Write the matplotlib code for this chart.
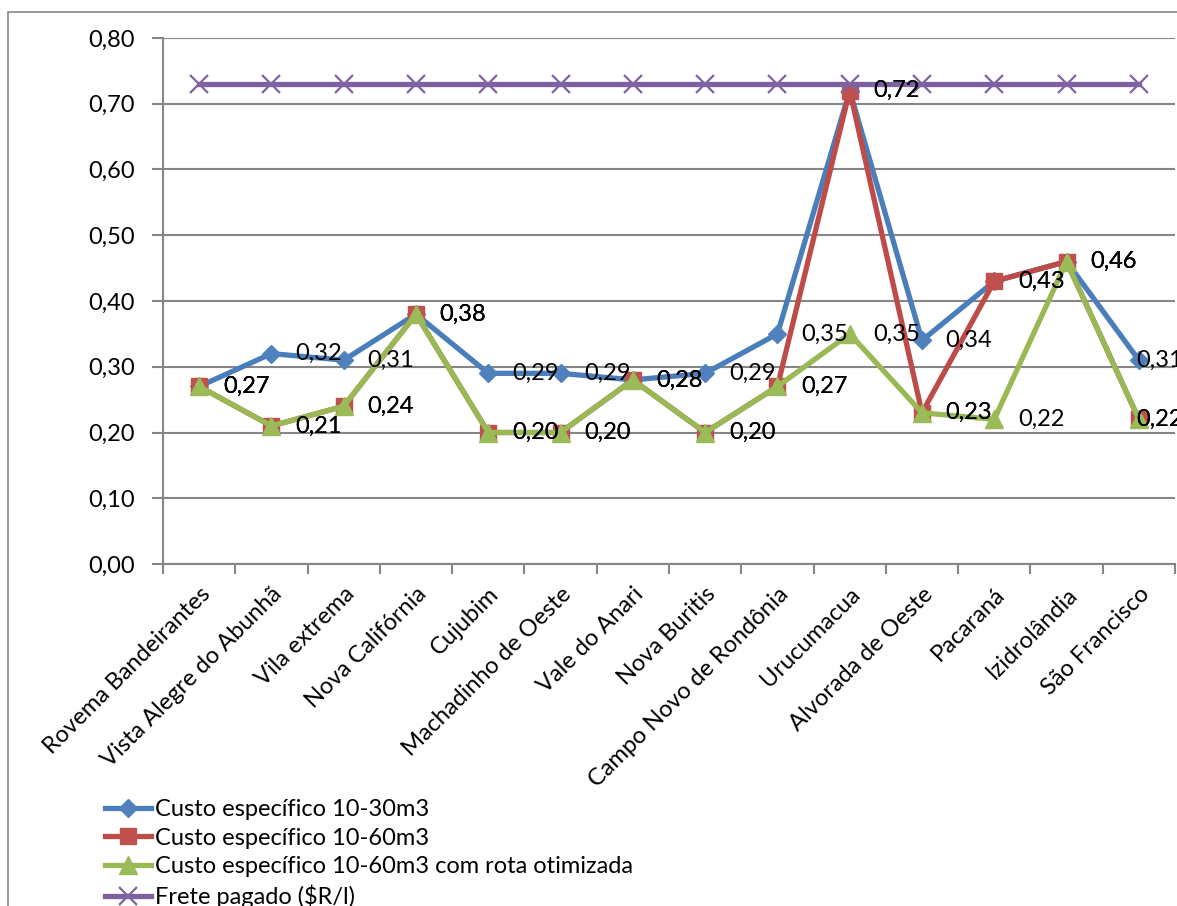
import matplotlib.pyplot as plt
from matplotlib.patches import Rectangle
from matplotlib.ticker import FixedLocator, FuncFormatter
import numpy as np

plt.rcParams["font.family"] = ["Lato", "DejaVu Sans"]

# Localidades atendidas pela rota
localidades = [
    "Rovema Bandeirantes", "Vista Alegre do Abunhã", "Vila extrema", "Nova Califórnia",
    "Cujubim", "Machadinho de Oeste", "Vale do Anari", "Nova Buritis",
    "Campo Novo de Rondônia", "Urucumacua", "Alvorada de Oeste", "Pacaraná",
    "Izidrolândia", "São Francisco",
]

# Custos específicos (R$/l) por cenário
custo_10_30 = [0.27, 0.32, 0.31, 0.38, 0.29, 0.29, 0.28, 0.29, 0.35, 0.72, 0.34, 0.43, 0.46, 0.31]
custo_10_60 = [0.27, 0.21, 0.24, 0.38, 0.20, 0.20, 0.28, 0.20, 0.27, 0.72, 0.23, 0.43, 0.46, 0.22]
custo_10_60_otim = [0.27, 0.21, 0.24, 0.38, 0.20, 0.20, 0.28, 0.20, 0.27, 0.35, 0.23, 0.22, 0.46, 0.22]
frete_pago = [0.73] * 14

series = [
    ("Custo específico 10-30m3", custo_10_30, "#4A7EBB", "#4F81BD", "D", 9, True),
    ("Custo específico 10-60m3", custo_10_60, "#BE4B48", "#C0504D", "s", 12, True),
    ("Custo específico 10-60m3 com rota otimizada", custo_10_60_otim, "#98B954", "#9BBB59", "^", 13, True),
    ("Frete pagado ($R/l)", frete_pago, "#7D60A0", "#8064A2", "x", 13, False),
]

GRID = "#868686"
FONTE = 17


def virgula(v, _pos=None):
    return f"{v:.2f}".replace(".", ",")


fig = plt.figure(figsize=(11.77, 9.06), dpi=100)
ax = fig.add_axes([163 / 1177, 1 - 564 / 906, 1012 / 1177, 526 / 906])

x = np.arange(len(localidades))
handles = []
for nome, valores, cor_linha, cor_marca, marca, tam, rotular in series:
    (h,) = ax.plot(
        x, valores, color=cor_linha, lw=3.8, marker=marca, markersize=tam,
        markerfacecolor=cor_marca, markeredgecolor=cor_marca,
        markeredgewidth=1.6 if marca == "x" else 1, label=nome, clip_on=False, zorder=3,
    )
    handles.append(h)

# rótulos de dados à direita de cada ponto (o último fica junto ao ponto, dentro da área)
for nome, valores, *_resto, rotular in series:
    if not rotular:
        continue
    for xi, v in zip(x, valores):
        dx = -2 if xi == x[-1] else 17
        ax.annotate(virgula(v), (xi, v), xytext=(dx, 0), textcoords="offset points",
                    ha="left", va="center", fontsize=FONTE, color="black",
                    annotation_clip=False, zorder=5)

ax.set_xlim(-0.5, len(localidades) - 0.5)
ax.set_ylim(0, 0.8)
ax.yaxis.set_major_locator(FixedLocator(np.arange(0, 0.81, 0.1)))
ax.yaxis.set_major_formatter(FuncFormatter(virgula))
ax.grid(axis="y", color=GRID, lw=1.5)
ax.set_axisbelow(True)

ax.set_xticks(x)
ax.set_xticklabels(localidades, rotation=45, ha="right", rotation_mode="anchor", fontsize=FONTE)
ax.set_xticks(np.arange(-0.5, len(localidades)), minor=True)
ax.tick_params(axis="x", which="major", length=0, pad=14)
ax.tick_params(axis="x", which="minor", length=7, color=GRID, width=1.5)
ax.tick_params(axis="y", length=8, color=GRID, width=1.5, pad=12, labelsize=FONTE)

for lado in ("top", "right"):
    ax.spines[lado].set_visible(False)
for lado in ("left", "bottom"):
    ax.spines[lado].set_color(GRID)
    ax.spines[lado].set_linewidth(1.5)

fig.legend(handles=handles, loc="upper left", bbox_to_anchor=(105 / 1177, 1 - 799 / 906),
           frameon=False, fontsize=FONTE, handlelength=1.95, handletextpad=0.15,
           labelspacing=0.32, borderaxespad=0, borderpad=0)

# moldura externa do gráfico
fig.add_artist(Rectangle((8 / 1177, -0.2), 1.5, 1.2 - 12 / 906, transform=fig.transFigure,
                         fill=False, edgecolor=GRID, lw=1.2))

fig.savefig("out.png", dpi=100)
